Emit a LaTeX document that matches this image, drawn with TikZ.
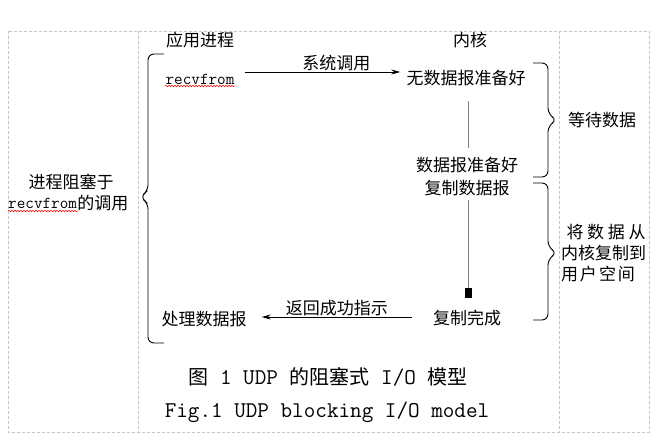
\documentclass[tikz,border=0pt]{standalone}
\usepackage{fontspec}
\setmainfont{Latin Modern Mono}
\newfontfamily\cjk{Noto Sans CJK SC}
\usetikzlibrary{arrows.meta,calc,decorations.pathmorphing}

\begin{document}
\begin{tikzpicture}[x=1pt,y=-1pt,
    txt/.style={font=\cjk\fontsize{17}{17}\selectfont, inner sep=0pt},
    code/.style={font=\fontsize{16.7}{17}\selectfont, inner sep=0pt},
    captxt/.style={font=\fontsize{22.5}{23}\selectfont, inner sep=0pt},
    frame/.style={gray!45, line width=0.8pt, dash pattern=on 3pt off 2pt},
    msg/.style={line width=0.9pt, -{Stealth[length=9pt,width=5pt]}},
    waitline/.style={gray, line width=0.9pt},
    brace/.style={line width=0.9pt, rounded corners=6pt},
    squiggle/.style={red, line width=0.5pt, decorate,
        decoration={snake, amplitude=0.8pt, segment length=3pt}}]
    \useasboundingbox (0,0) rectangle (661,435);

    % Dashed frame and columns
    \draw[frame] (8,31) rectangle (649,432);
    \draw[frame] (138,31) -- (138,432);
    \draw[frame] (559,31) -- (559,432);

    % Column headers
    \node[txt] (app) at (200,40) {应用进程};
    \node[txt] (kern) at (470,40) {内核};

    % Process side
    \node[code] (recv) at (200,79) {recvfrom};
    \draw[squiggle] (165,86) -- (235,86);
    \node[txt] (handle) at (204,319) {处理数据报};

    % Kernel side
    \node[txt] (nodata) at (466,78) {无数据报准备好};
    \node[txt] (ready) at (467,165) {数据报准备好};
    \node[txt] (copy) at (467,188) {复制数据报};
    \node[txt] (done) at (467,318) {复制完成};

    % System call and return
    \draw[msg] ($(recv.east)+(10,-7)$) -- node[txt, above=1pt, pos=0.59] (syscall) {系统调用} ($(nodata.west)+(-6,-6)$);
    \draw[msg] ($(done.west)+(-21,-1)$) -- node[txt, above=1pt] (retok) {返回成功指示} ($(handle.east)+(15,-2)$);

    % Waiting and copying
    \draw[waitline] ($(nodata.south)+(2,15)$) -- ($(ready.north)+(1,-9)$);
    \draw[waitline, -{Square[length=10pt,width=7pt,color=black]}] ($(copy.south)+(1,4)$) -- ($(done.north)+(1,-12)$);

    % Braces
    \draw[brace] (164,54) -- (148,54) -- (148,191) -- (140,197) -- (148,203) -- (148,343) -- (164,343);
    \draw[brace] (533,63) -- (548,63) -- (548,114) -- (557,120) -- (548,126) -- (548,177) -- (533,177);
    \draw[brace] (533,183) -- (548,183) -- (548,247) -- (557,253) -- (548,259) -- (548,320) -- (533,320);

    % Brace labels
    \node[txt] (block1) at (71,182) {进程阻塞于};
    \node[code, anchor=west] (lrecv) at (8,203) {recvfrom};
    \node[txt, anchor=west] (block2) at (lrecv.east) {的调用};
    \draw[squiggle] (8,211) -- (78,211);
    \node[txt] (waitdata) at (602,120) {等待数据};
    \node[txt] (copy1) at (606,232) {\makebox[79pt][s]{将\hfill 数\hfill 据\hfill 从}};
    \node[txt] (copy2) at (603.5,253) {\makebox[85pt][s]{内\hfill 核\hfill 复\hfill 制\hfill 到}};
    \node[txt] (copy3) at (598,274) {\makebox[74pt][s]{用\hfill 户\hfill 空\hfill 间}};

    % Caption
    \node[captxt] (cap1) at (328,377) {{\cjk\fontsize{20}{20}\selectfont 图} 1 UDP {\cjk\fontsize{20}{20}\selectfont 的阻塞式} I/O {\cjk\fontsize{20}{20}\selectfont 模型}};
    \node[captxt] (cap2) at (327,412) {Fig.1 UDP blocking I/O model};

\end{tikzpicture}
\end{document}
